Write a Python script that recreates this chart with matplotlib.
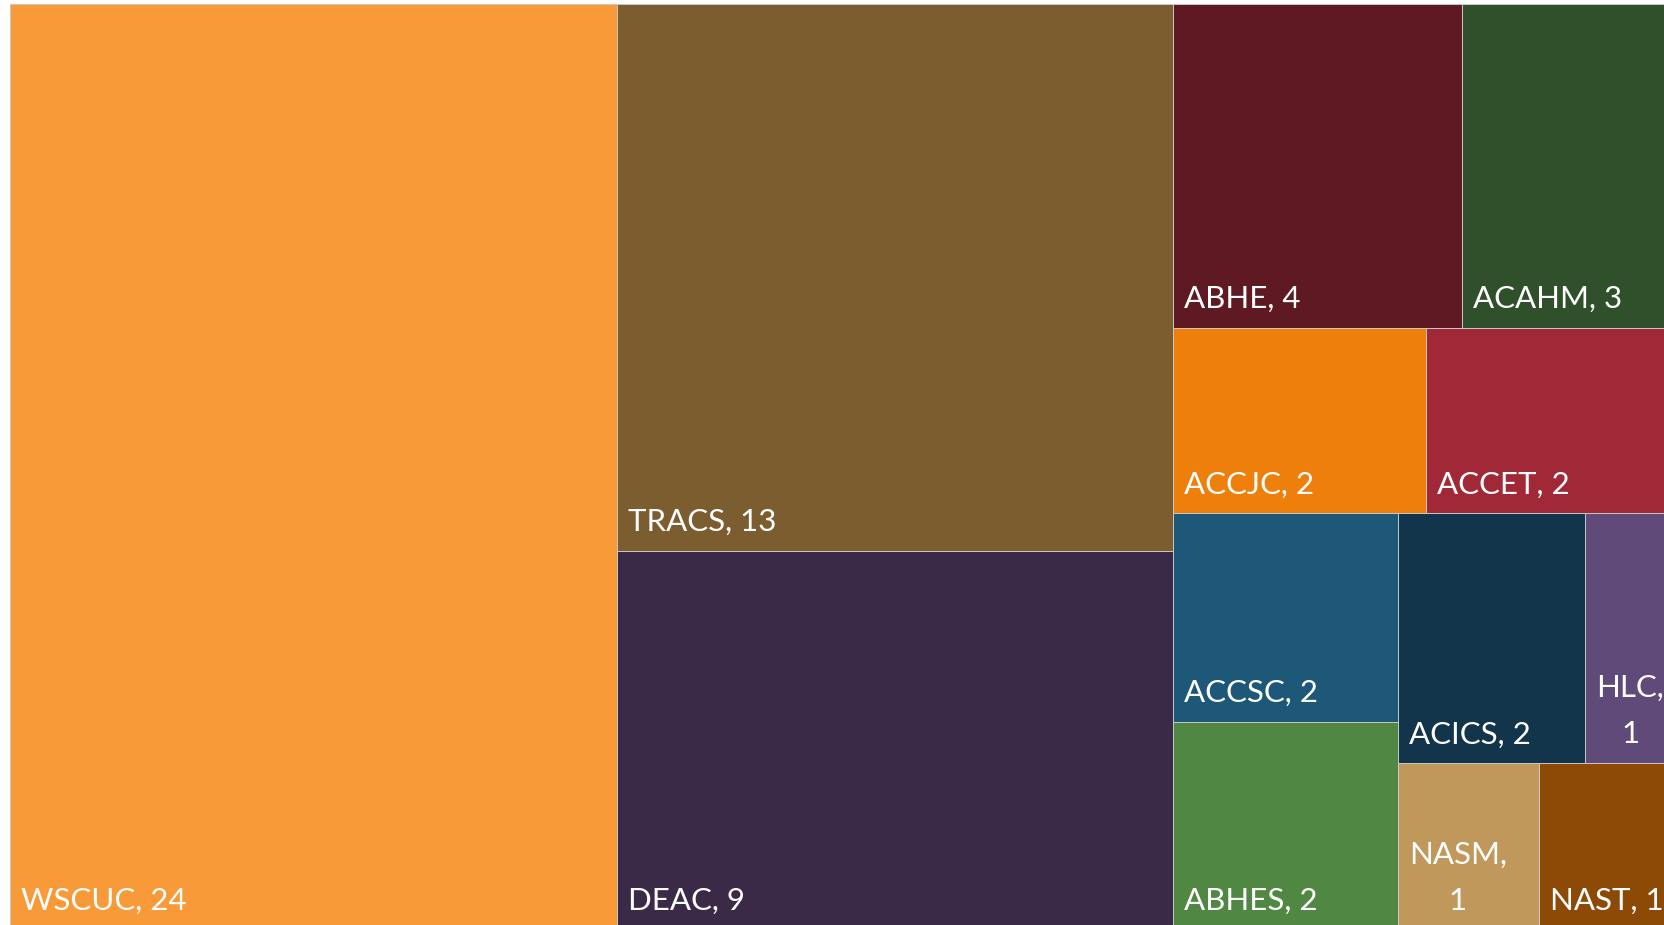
"""
Treemap de acreditadoras (recreación)
"""

import matplotlib.pyplot as plt
from matplotlib.patches import Rectangle

# datos
nombres = ['WSCUC', 'TRACS', 'DEAC', 'ABHE', 'ACAHM', 'ACCJC', 'ACCET',
           'ACCSC', 'ABHES', 'ACICS', 'HLC', 'NASM', 'NAST']
valores = [24, 13, 9, 4, 3, 2, 2, 2, 2, 2, 1, 1, 1]
colores = ['#F79A37', '#7C5D2F', '#3A2A48', '#5F1922', '#30502C', '#EE7F0A',
           '#A12837', '#1E5879', '#4F8743', '#12354B', '#604A79', '#C1985B',
           '#8D4A06']
# indices agrupados en franjas, igual que el treemap original
franjas = [[0], [1, 2], [3, 4], [5, 6], [7, 8], [9, 10], [11, 12]]
# etiquetas que no caben en una linea
partidas = ['HLC', 'NASM']


def calcular_rectangulos(valores, franjas, x, y, w, h):
    """Reparte el area en franjas; cada franja va sobre el lado corto"""
    rects = {}
    restante = float(sum(valores))
    for k, franja in enumerate(franjas):
        total = sum(valores[i] for i in franja)
        ultima = k == len(franjas) - 1
        columna = (h <= w) != ultima
        if columna:
            sw = w * total / restante
            yy = y
            for i in franja:
                hh = h * valores[i] / total
                rects[i] = (x, yy, sw, hh)
                yy += hh
            x += sw
            w -= sw
        else:
            sh = h * total / restante
            xx = x
            for i in franja:
                ww = w * valores[i] / total
                rects[i] = (xx, y, ww, sh)
                xx += ww
            y += sh
            h -= sh
        restante -= total
    return rects


fig = plt.figure(figsize=(16.65, 9.25), dpi=100)
ax = fig.add_axes([0, 0, 1, 1])
ax.set_xlim(0, 1665)
ax.set_ylim(925, 0)
ax.axis('off')

# el grafico original queda recortado a la derecha y abajo
rects = calcular_rectangulos(valores, franjas, 10, 4, 1669, 926)

for i, (x, y, w, h) in rects.items():
    ax.add_patch(Rectangle((x, y), w, h, facecolor=colores[i],
                           edgecolor='#C8C8C8', linewidth=0.7))
    if nombres[i] in partidas:
        texto = f"{nombres[i]},\n{valores[i]}"
    else:
        texto = f"{nombres[i]}, {valores[i]}"
    ax.text(x + 11, y + h - 15, texto, color='white', fontsize=22.5,
            family='Lato', ha='left', va='bottom', multialignment='center',
            linespacing=1.8)

fig.savefig('out.png', dpi=100)
